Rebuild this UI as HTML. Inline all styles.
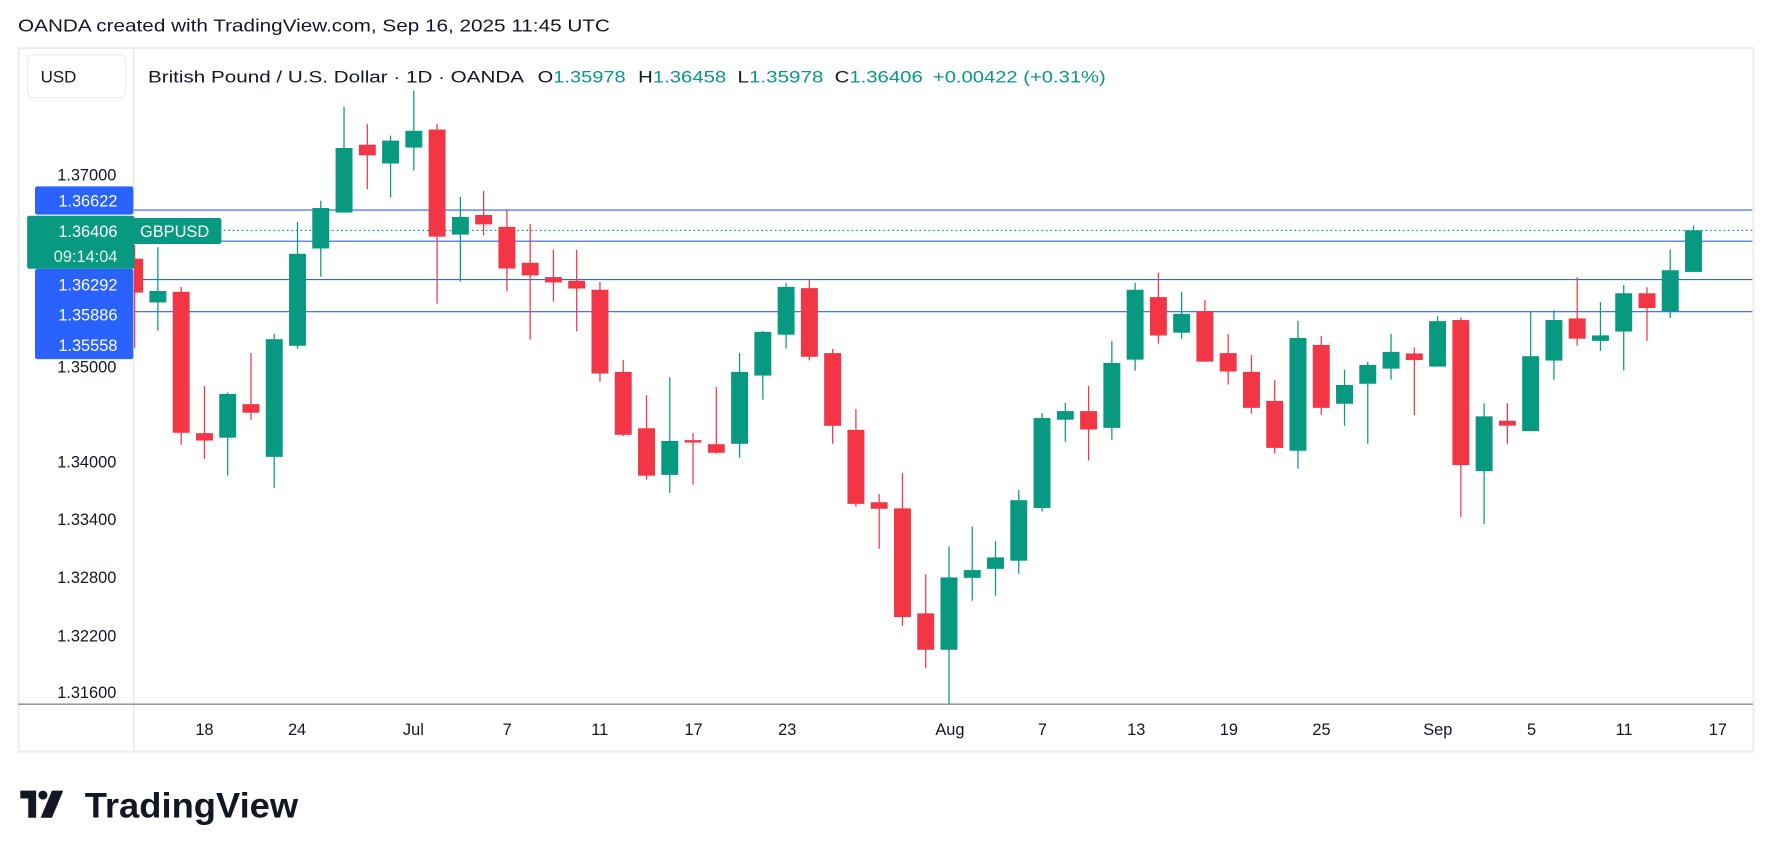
<!DOCTYPE html>
<html><head><meta charset="utf-8"><style>
html,body{margin:0;padding:0;background:#fff;}
svg{display:block;}
text{font-family:"Liberation Sans","DejaVu Sans",sans-serif;}
</style></head><body>
<svg id="s" width="1771" height="857" viewBox="0 0 1568 758.8" preserveAspectRatio="none" xmlns="http://www.w3.org/2000/svg">
<defs><clipPath id="cp"><rect x="118.5" y="42" width="1433" height="581"/></clipPath></defs>
<rect x="0" y="0" width="1568" height="759" fill="#fff"/>
<text x="16" y="28" font-size="15.5" fill="#131722" textLength="524" lengthAdjust="spacingAndGlyphs">OANDA created with TradingView.com, Sep 16, 2025 11:45 UTC</text>
<rect x="16.5" y="42.5" width="1536" height="623" fill="#fff" stroke="#eeeeee" stroke-width="2"/>
<line x1="118.5" y1="42" x2="118.5" y2="665" stroke="#e0e3eb" stroke-width="1"/>
<line x1="16" y1="623.5" x2="1552" y2="623.5" stroke="#8a8a8e" stroke-width="1.3"/>
<rect x="24.5" y="48.5" width="87" height="38" rx="5" fill="#fff" stroke="#eeeeee"/>
<text x="36" y="73" font-size="15" fill="#131722">USD</text>
<g font-size="15" fill="#131722">
<text x="131" y="73" textLength="333" lengthAdjust="spacingAndGlyphs">British Pound / U.S. Dollar · 1D · OANDA</text>
<text x="476" y="73" textLength="78" lengthAdjust="spacingAndGlyphs">O<tspan fill="#089981">1.35978</tspan></text>
<text x="565" y="73" textLength="78" lengthAdjust="spacingAndGlyphs">H<tspan fill="#089981">1.36458</tspan></text>
<text x="653" y="73" textLength="76" lengthAdjust="spacingAndGlyphs">L<tspan fill="#089981">1.35978</tspan></text>
<text x="739" y="73" textLength="78" lengthAdjust="spacingAndGlyphs">C<tspan fill="#089981">1.36406</tspan></text>
<text x="826" y="73" fill="#089981" textLength="153" lengthAdjust="spacingAndGlyphs">+0.00422 (+0.31%)</text>
</g>
<g font-size="14.5" fill="#131722" text-anchor="end">
<text x="103" y="160">1.37000</text>
<text x="103" y="330">1.35000</text>
<text x="103" y="414">1.34000</text>
<text x="103" y="465">1.33400</text>
<text x="103" y="516">1.32800</text>
<text x="103" y="568">1.32200</text>
<text x="103" y="618">1.31600</text>
</g>
<g font-size="14.5" fill="#131722" text-anchor="middle">
<text x="181" y="651">18</text><text x="263" y="651">24</text><text x="366" y="651">Jul</text><text x="449" y="651">7</text><text x="531" y="651">11</text><text x="614" y="651">17</text><text x="697" y="651">23</text><text x="841" y="651">Aug</text><text x="923" y="651">7</text><text x="1006" y="651">13</text><text x="1088" y="651">19</text><text x="1170" y="651">25</text><text x="1273" y="651">Sep</text><text x="1356" y="651">5</text><text x="1438" y="651">11</text><text x="1521" y="651">17</text>
</g>
<g id="cd" clip-path="url(#cp)">
<line x1="118" y1="186" x2="1552" y2="186" stroke="#2962ff" stroke-width="1"/>
<line x1="118" y1="213.5" x2="1552" y2="213.5" stroke="#2962ff" stroke-width="1"/>
<line x1="118" y1="247.5" x2="1552" y2="247.5" stroke="#2962ff" stroke-width="1"/>
<line x1="118" y1="276" x2="1552" y2="276" stroke="#2962ff" stroke-width="1"/>
<line x1="118" y1="204" x2="1552" y2="204" stroke="#089981" stroke-width="1" stroke-dasharray="1.5 2.5"/>
</g>
<rect x="31" y="165" width="87" height="25" rx="2" fill="#2962ff"/>
<text x="104" y="183" font-size="14.5" fill="#fff" text-anchor="end">1.36622</text>
<rect x="31" y="238" width="87" height="80" rx="2" fill="#2962ff"/>
<text x="104" y="257" font-size="14.5" fill="#fff" text-anchor="end">1.36292</text>
<text x="104" y="284" font-size="14.5" fill="#fff" text-anchor="end">1.35886</text>
<text x="104" y="311" font-size="14.5" fill="#fff" text-anchor="end">1.35558</text>
<rect x="24" y="191" width="95" height="47" rx="2" fill="#089981"/>
<text x="104" y="210" font-size="14.5" fill="#fff" text-anchor="end">1.36406</text>
<text x="104" y="232" font-size="14.5" fill="#e6f4f1" text-anchor="end">09:14:04</text>
<rect x="118" y="193" width="78" height="23" rx="2" fill="#089981"/>
<text x="124" y="210" font-size="14.5" fill="#fff">GBPUSD</text>
<g transform="translate(18,700)" fill="#131722">
<path d="M0 0H14V24H7V7H0Z"/>
<circle cx="20" cy="4" r="4"/>
<path d="M28 0H38L28 24H18Z"/>
</g>
<text x="75" y="724" font-size="31" font-weight="bold" fill="#131722" textLength="189" lengthAdjust="spacingAndGlyphs">TradingView</text>
</svg>
<script>
(function(){
var g=function(z){return 186+(z-319)*0.3618;};
var f=function(z){return 186+(z-384)*0.4845;};
var A=[
[-3,'r',405,438,521,657],[-2,'g',410,517,545,614],[-1,'r',507,519,864,893],[0,'r',750,865,883,928],
[1,'g',765,769,876,969],[2,'r',669,794,815,832],[3,'g',622,635,923,999],[4,'g',348,426,651,658],
[5,'g',296,314,413,482],[6,'g',66,167,325,325],[7,'r',108,159,185,268],[8,'g',137,149,205,288],
[9,'g',27,125,166,222],[10,'r',108,122,384,548],[11,'g',287,336,379,494],[12,'r',272,331,354,381],
[13,'r',319,360,462,518],[14,'r',353,448,479,636],[15,'r',416,483,496,543],[16,'r',416,492,511,616],
[17,'r',495,514,719,739],[18,'r',686,715,869,872],[19,'r',772,853,969,979],[20,'g',728,884,967,1011],
[21,'r',865,882,888,991],[22,'r',752,892,913,915],[23,'g',669,715,891,925],[24,'g',615,617,724,783],
[25,'g',497,507,624,658],[26,'r',489,510,678,687],[27,'r',659,669,847,891],[28,'r',806,857,1038,1045],
[29,'r',1014,1034,1050,1148],[30,'r',963,1049,1315,1337],[31,'r',1210,1306,1395,1440],[32,'g',1142,1218,1395,1527],
[33,'g',1093,1200,1219,1275],[34,'g',1129,1169,1197,1263],[35,'g',1004,1029,1177,1209],[36,'g',816,828,1048,1057],
[37,'g',791,811,832,886],[38,'r',750,811,856,932],[39,'g',639,693,852,881],[40,'g',497,514,685,712],
[41,'r',472,532,626,646],[42,'g',519,573,619,634],[43,'r',539,566,690,690],[44,'r',622,669,714,746],
[45,'r',674,715,803,817],[46,'r',735,786,901,915],[47,'g',590,632,908,952],[48,'r',627,649,803,820],
[49,'g',710,747,793,847],[50,'g',690,698,744,891],[51,'g',622,666,707,734]];
var B=[[52,'r',635,646,658,759],[53,'g',578,587,670,670],[54,'r',580,585,850,945],[55,'g',737,761,861,958],
[56,'r',737,769,778,811],[57,'g',570,651,788,788],[58,'g',567,585,659,694],[59,'r',507,582,619,632],
[60,'g',552,613,623,641],[61,'g',521,536,606,677],[62,'r',525,536,563,623],[63,'g',456,494,569,581],[64,'g',412,421,497,497]];
var ns='http://www.w3.org/2000/svg',cd=document.getElementById('cd');
function add(c,fn){var x=181+c[0]*20.6,col=c[1]=='g'?'#089981':'#f23645';
var wt=fn(c[2]),bt=fn(c[3]),bb=fn(c[4]),wb=fn(c[5]);if(bb-bt<1.5)bb=bt+1.5;
var l=document.createElementNS(ns,'line');l.setAttribute('x1',x);l.setAttribute('x2',x);l.setAttribute('y1',wt);l.setAttribute('y2',wb);l.setAttribute('stroke',col);l.setAttribute('stroke-width','1.1');cd.appendChild(l);
var r=document.createElementNS(ns,'rect');r.setAttribute('x',x-7.5);r.setAttribute('width',15);r.setAttribute('y',bt);r.setAttribute('height',bb-bt);r.setAttribute('fill',col);cd.appendChild(r);}
A.forEach(function(c){add(c,g);});B.forEach(function(c){add(c,f);});
})();
</script>
</body></html>
